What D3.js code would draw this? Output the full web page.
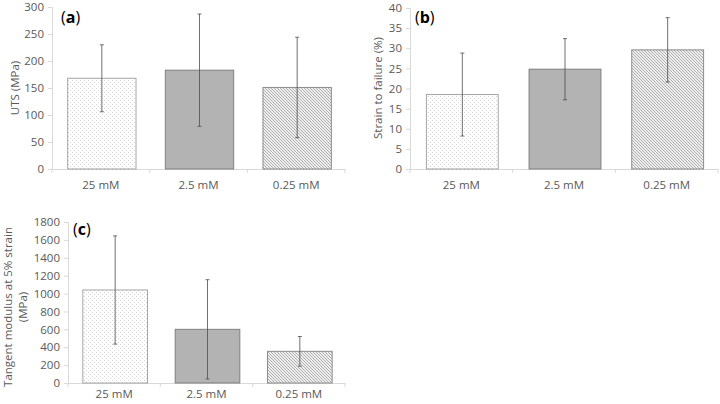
<!DOCTYPE html>
<html><head><meta charset="utf-8">
<script src="https://cdn.jsdelivr.net/npm/d3@7"></script>
<style>
body{margin:0;background:#fff;}
text{font-family:"Open Sans","Liberation Sans",sans-serif;}
</style></head>
<body>
<svg id="c" width="720" height="404"></svg>
<script>
const categories = ["25 mM", "2.5 mM", "0.25 mM"];
const utsValues = [168, 183, 151];
const utsErrors = [62, 104, 93];
const strainValues = [18.5, 24.8, 29.6];
const strainErrors = [10.3, 7.6, 8.0];
const modulusValues = [1040, 600, 354];
const modulusErrors = [605, 555, 166];
const utsTicks = [0, 50, 100, 150, 200, 250, 300];
const strainTicks = [0, 5, 10, 15, 20, 25, 30, 35, 40];
const modulusTicks = [0, 200, 400, 600, 800, 1000, 1200, 1400, 1600, 1800];

const svg = d3.select("#c");
const defs = svg.append("defs");
const pd = defs.append("pattern").attr("id","dots").attr("patternUnits","userSpaceOnUse").attr("width",4).attr("height",4);
pd.append("rect").attr("width",4).attr("height",4).attr("fill","#ffffff");
pd.append("rect").attr("x",0).attr("y",0).attr("width",1).attr("height",1).attr("fill","#d4d4d4");
pd.append("rect").attr("x",2).attr("y",2).attr("width",1).attr("height",1).attr("fill","#d4d4d4");
const ph = defs.append("pattern").attr("id","hatch").attr("patternUnits","userSpaceOnUse").attr("width",3).attr("height",3);
ph.append("rect").attr("width",3).attr("height",3).attr("fill","#eeeeee");
ph.append("path").attr("d","M-1,-1 L4,4 M-1,2 L1,4 M2,-1 L4,1").attr("stroke","#a8a8a8").attr("stroke-width",0.9);

const fills = ["url(#dots)", "#b3b3b3", "url(#hatch)"];
const strokes = ["#a6a6a6", "#7f7f7f", "#8c8c8c"];

function panel(o){
  const x = d3.scaleBand().domain(categories).range([o.x0, o.x1]).padding(0);
  const y = d3.scaleLinear().domain([0, o.max]).range([o.yb, o.yt]);
  const g = svg.append("g");
  const ya = g.append("g").attr("transform",`translate(${o.x0},0)`)
    .call(d3.axisLeft(y).tickValues(o.ticks).tickSize(4).tickPadding(4).tickFormat(d3.format("d")));
  ya.select(".domain").attr("stroke","#d9d9d9");
  ya.selectAll(".tick line").attr("stroke","#d9d9d9");
  ya.selectAll("text").attr("fill","#595959").style("font-size","11.5px");
  const xa = g.append("g").attr("transform",`translate(0,${o.yb})`)
    .call(d3.axisBottom(x).tickSize(0).tickPadding(o.xpad));
  xa.select(".domain").attr("stroke","#d9d9d9");
  xa.selectAll("text").attr("fill","#595959").style("font-size","11.5px");
  const bounds = [0,1,2,3].map(i => o.x0 + i * x.step());
  g.selectAll(".xt").data(bounds).join("line")
    .attr("x1",d=>d).attr("x2",d=>d).attr("y1",o.yb).attr("y2",o.yb+4).attr("stroke","#d9d9d9");
  const bw = x.bandwidth()*0.7;
  g.selectAll(".bar").data(o.values).join("rect")
    .attr("x",(d,i)=>x(categories[i]) + (x.bandwidth()-bw)/2 + 1)
    .attr("y",d=>y(d)).attr("width",bw).attr("height",d=>y(0)-y(d))
    .attr("fill",(d,i)=>fills[i]).attr("stroke",(d,i)=>strokes[i]).attr("stroke-width",1);
  o.values.forEach((v,i)=>{
    const cx = x(categories[i]) + x.bandwidth()/2 + 1;
    const e = o.errors[i];
    g.append("line").attr("x1",cx).attr("x2",cx).attr("y1",y(v+e)).attr("y2",y(v-e)).attr("stroke","#4d4d4d").attr("stroke-width",0.8);
    [v+e, v-e].forEach(t=>{
      g.append("line").attr("x1",cx-2).attr("x2",cx+2).attr("y1",y(t)).attr("y2",y(t)).attr("stroke","#4d4d4d").attr("stroke-width",0.8);
    });
  });
  const lab = g.append("text").attr("x",o.lx).attr("y",o.ly).attr("fill","#000").style("font-size","16px");
  lab.append("tspan").text("(");
  lab.append("tspan").attr("font-weight","bold").text(o.letter);
  lab.append("tspan").text(")");
  const tt = g.append("text").attr("transform",`translate(${o.tx},${o.ty}) rotate(-90)`)
    .attr("text-anchor","middle").attr("fill","#595959").style("font-size","11.5px");
  o.title.forEach((t,k)=>{
    tt.append("tspan").attr("x",0).attr("dy", k===0 ? 0 : 15).text(t);
  });
}

panel({x0:52,x1:345,yb:169,yt:7,max:300,ticks:utsTicks,values:utsValues,errors:utsErrors,xpad:12,
  letter:"a",lx:61,ly:23,title:["UTS (MPa)"],tx:19,ty:88});
panel({x0:410,x1:718,yb:169,yt:8,max:40,ticks:strainTicks,values:strainValues,errors:strainErrors,xpad:12,
  letter:"b",lx:415,ly:23,title:["Strain to failure (%)"],tx:382,ty:88});
panel({x0:68,x1:345,yb:383,yt:222,max:1800,ticks:modulusTicks,values:modulusValues,errors:modulusErrors,xpad:7,
  letter:"c",lx:73,ly:235,title:["Tangent modulus at 5% strain","(MPa)"],tx:12,ty:307});
</script>
</body></html>
